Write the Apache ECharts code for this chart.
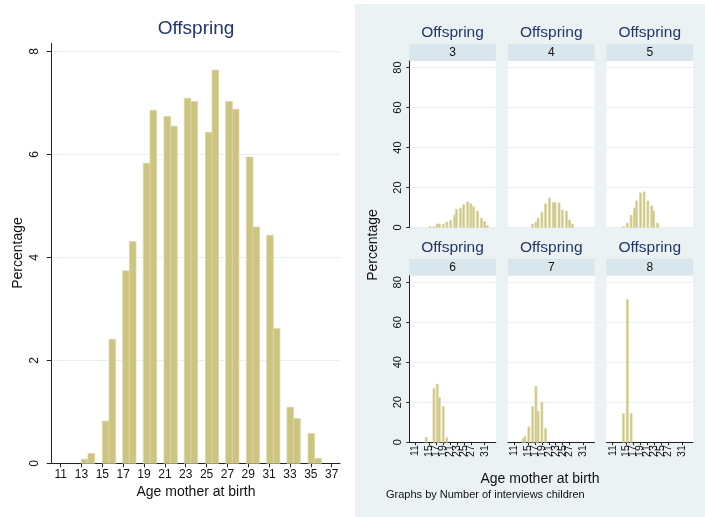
<!DOCTYPE html>
<html>
<head>
<meta charset="utf-8">
<script src="https://cdn.jsdelivr.net/npm/echarts@6/dist/echarts.min.js"></script>
<style>
html, body { margin: 0; padding: 0; background: #fff; }
#chart { width: 705px; height: 517px; }
</style>
</head>
<body>
<div id="chart"></div>
<script>
// overall histogram: one bin per age, left edge of each bin
var bigAges = [13, 14, 15, 16, 17, 18, 19, 20, 21, 22, 23, 24, 25, 26, 27, 28, 29, 30, 31, 32, 33, 34, 35, 36];
var bigBinLeft = [12.98, 13.62, 15.0, 15.64, 16.95, 17.59, 18.93, 19.57, 20.91, 21.55, 22.86, 23.5,
                  24.88, 25.52, 26.83, 27.47, 28.81, 29.45, 30.76, 31.4, 32.71, 33.35, 34.73, 35.37];
var bigPct = [0.08, 0.19, 0.82, 2.41, 3.74, 4.31, 5.83, 6.86, 6.74, 6.55, 7.09, 7.03,
              6.43, 7.64, 7.03, 6.88, 5.95, 4.59, 4.43, 2.62, 1.09, 0.87, 0.58, 0.10];
var bigBinWidth = 0.64;
var bigXTicks = [11, 13, 15, 17, 19, 21, 23, 25, 27, 29, 31, 33, 35, 37];
var bigYTicks = [0, 2, 4, 6, 8];

// by number of interviews: shared bins
var smallBinLeft = [13.25, 13.8, 14.92, 16.03, 16.99, 17.6, 18.71, 19.77, 20.88, 21.99,
                    22.5, 23.67, 24.63, 25.79, 26.7, 27.5, 28.62, 29.74, 30.65, 31.46];
var smallBinWidth = 0.58;
var groups = ['3', '4', '5', '6', '7', '8'];
var pct3 = [0, 0, 0.5, 0.5, 1.7, 1.7, 1.7, 2.7, 3.6, 6.2, 9.2, 9.6, 11.4, 12.8, 11.9, 10.4, 8.2, 4.6, 3.1, 1.0];
var pct4 = [0, 0, 0, 1.7, 2.7, 4.7, 7.7, 11.8, 14.8, 12.4, 12.4, 12.3, 8.7, 8.2, 3.7, 1.7, 0, 0, 0, 0];
var pct5 = [0, 0.4, 2.2, 6.2, 9.7, 13.3, 17.3, 17.8, 13.3, 10.8, 8.2, 2.2, 0, 0, 0, 0, 0, 0, 0, 0];
var pct6 = [0, 2.5, 0, 26.9, 29.1, 22.4, 17.8, 2.2, 0, 0, 0, 0, 0, 0, 0, 0, 0, 0, 0, 0];
var pct7 = [1.7, 3.0, 7.7, 17.8, 28.1, 15.5, 20.0, 6.9, 0, 0, 0, 0, 0, 0, 0, 0, 0, 0, 0, 0];
var pct8 = [0, 14.3, 71.4, 14.3, 0, 0, 0, 0, 0, 0, 0, 0, 0, 0, 0, 0, 0, 0, 0, 0];
var smallXTicks = [11, 13, 15, 17, 19, 21, 23, 25, 27, 29, 31];
var smallYTicks = [0, 20, 40, 60, 80];

var FONT = '"Liberation Sans", Arial, sans-serif';
var NAVY = '#23356a';
var BAR_FILL = '#CCC581';
var BAR_EDGE = '#DCD7A6';
var GRIDLINE = '#E8F0F2';

var chart = echarts.init(document.getElementById('chart'));

// bins are drawn as rectangles from left edge to left edge + width
function renderBin(params, api) {
	var h = api.value(1);
	if (!h) return null;
	var p0 = api.coord([api.value(0), h]);
	var p1 = api.coord([api.value(0) + api.value(2), 0]);
	return {
		type: 'rect',
		shape: {x: p0[0], y: p0[1], width: p1[0] - p0[0], height: p1[1] - p0[1]},
		style: {fill: BAR_FILL, stroke: BAR_EDGE, lineWidth: 0.7}
	};
}

var grids = [{left: 51.7, top: 43.3, width: 288.3, height: 420}];
var xAxes = [{
	gridIndex: 0, type: 'value', min: 10.14, max: 37.8,
	axisLine: {onZero: false, lineStyle: {color: '#222', width: 1}},
	axisTick: {length: 4, customValues: bigXTicks, lineStyle: {color: '#222'}},
	axisLabel: {customValues: bigXTicks, color: '#111', fontSize: 12, fontFamily: FONT, margin: 5,
		hideOverlap: false, showMinLabel: true, showMaxLabel: true},
	splitLine: {show: false}
}];
var yAxes = [{
	gridIndex: 0, type: 'value', min: 0, max: 8.16,
	axisLine: {show: true, lineStyle: {color: '#222', width: 1}},
	axisTick: {show: true, length: 5, customValues: bigYTicks, lineStyle: {color: '#222'}},
	axisLabel: {customValues: bigYTicks, rotate: 90, color: '#111', fontSize: 12, fontFamily: FONT, margin: 11},
	splitLine: {show: true, lineStyle: {color: GRIDLINE, width: 1}}
}];
var series = [{
	type: 'custom', xAxisIndex: 0, yAxisIndex: 0,
	renderItem: renderBin,
	encode: {x: 0, y: 1},
	data: bigAges.map(function (a, i) { return [bigBinLeft[i], bigPct[i], bigBinWidth]; })
}];

var colLeft = [409.3, 508, 606.5];
var rowTop = [61, 275.7];
var panelW = 86.5;
var panelH = 166.5;
var panelData = [pct3, pct4, pct5, pct6, pct7, pct8];

var graphics = [
	{type: 'rect', shape: {x: 355, y: 4, width: 350, height: 513}, style: {fill: '#EAF2F3'}, z: -10},
	{type: 'text', x: 196, y: 29, style: {text: 'Offspring', fill: NAVY, font: '19px ' + FONT, align: 'center', verticalAlign: 'middle'}},
	{type: 'text', x: 18, y: 253, rotation: Math.PI / 2, style: {text: 'Percentage', fill: '#111', font: '14px ' + FONT, align: 'center', verticalAlign: 'middle'}},
	{type: 'text', x: 196, y: 492, style: {text: 'Age mother at birth', fill: '#111', font: '14px ' + FONT, align: 'center', verticalAlign: 'middle'}},
	{type: 'text', x: 373, y: 245, rotation: Math.PI / 2, style: {text: 'Percentage', fill: '#111', font: '14px ' + FONT, align: 'center', verticalAlign: 'middle'}},
	{type: 'text', x: 540, y: 479, style: {text: 'Age mother at birth', fill: '#111', font: '14px ' + FONT, align: 'center', verticalAlign: 'middle'}},
	{type: 'text', x: 386, y: 495, style: {text: 'Graphs by Number of interviews children', fill: '#111', font: '11px ' + FONT, align: 'left', verticalAlign: 'middle'}}
];

groups.forEach(function (g, k) {
	var col = k % 3, row = Math.floor(k / 3);
	var gi = k + 1;
	var left = colLeft[col], top = rowTop[row];
	var bottomRow = row === 1, firstCol = col === 0;
	grids.push({left: left, top: top, width: panelW, height: panelH, show: true, backgroundColor: '#fff', borderWidth: 0});
	xAxes.push({
		gridIndex: gi, type: 'value', min: 9.2, max: 34.2,
		axisLine: {show: bottomRow, onZero: false, lineStyle: {color: '#222', width: 1}},
		axisTick: {show: bottomRow, length: 3, customValues: smallXTicks, lineStyle: {color: '#222'}},
		axisLabel: {show: bottomRow, customValues: smallXTicks, rotate: 90, color: '#111', fontSize: 10.5, fontFamily: FONT, margin: 3,
			hideOverlap: false, showMinLabel: true, showMaxLabel: true},
		splitLine: {show: false}
	});
	yAxes.push({
		gridIndex: gi, type: 'value', min: 0, max: 83.3,
		axisLine: {show: firstCol, lineStyle: {color: '#222', width: 1}},
		axisTick: {show: firstCol, length: 3, customValues: smallYTicks, lineStyle: {color: '#222'}},
		axisLabel: {show: firstCol, customValues: smallYTicks, rotate: 90, color: '#111', fontSize: 11, fontFamily: FONT, margin: 6,
			hideOverlap: false, showMinLabel: true, showMaxLabel: true},
		splitLine: {show: true, lineStyle: {color: GRIDLINE, width: 1}}
	});
	series.push({
		type: 'custom', xAxisIndex: gi, yAxisIndex: gi,
		renderItem: renderBin,
		encode: {x: 0, y: 1},
		data: smallBinLeft.map(function (b, i) { return [b, panelData[k][i], smallBinWidth]; })
	});
	// strip with group label, and the panel title above it
	graphics.push({type: 'rect', shape: {x: left, y: top - 17, width: panelW, height: 17}, style: {fill: '#D9E6EB'}, z: -5});
	graphics.push({type: 'text', x: left + panelW / 2, y: top - 8.5, style: {text: g, fill: '#111', font: '12px ' + FONT, align: 'center', verticalAlign: 'middle'}});
	graphics.push({type: 'text', x: left + panelW / 2, y: top - 28, style: {text: 'Offspring', fill: NAVY, font: '15.5px ' + FONT, align: 'center', verticalAlign: 'middle'}});
});

var option = {
	backgroundColor: '#fff',
	animation: false,
	textStyle: {fontFamily: FONT},
	grid: grids,
	xAxis: xAxes,
	yAxis: yAxes,
	series: series,
	graphic: graphics
};
chart.setOption(option);
</script>
</body>
</html>
